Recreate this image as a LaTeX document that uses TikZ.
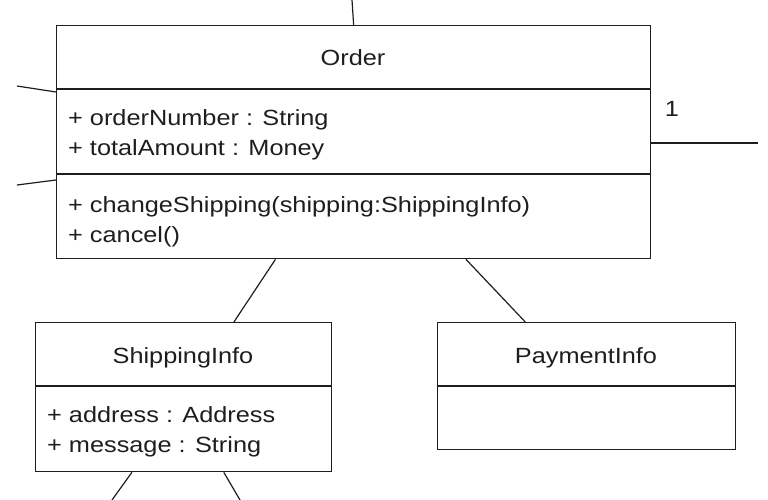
\documentclass[tikz,border=0pt]{standalone}
\usepackage{fontspec}
\setmainfont{Liberation Sans}[FakeStretch=1.15]
\usetikzlibrary{calc}
\definecolor{ink}{HTML}{1E1E1E}
\tikzset{
  classbox/.style={draw=ink, line width=1.3pt, rectangle, inner sep=0pt, anchor=north west},
  divider/.style={draw=ink, line width=1.3pt},
  assoc/.style={draw=ink, line width=1.2pt},
  title/.style={font=\fontsize{22}{26}\selectfont, text=ink, inner sep=0pt, anchor=base},
  member/.style={font=\fontsize{22}{26}\selectfont, text=ink, inner sep=0pt, anchor=base west},
}
\begin{document}
\begin{tikzpicture}[x=1pt,y=-1pt]
\useasboundingbox (0,0) rectangle (768,500);
% class boxes
\node[classbox, minimum width=594pt, minimum height=233pt] (order) at (56,25) {};
\node[classbox, minimum width=296pt, minimum height=149pt] (ship) at (35,322) {};
\node[classbox, minimum width=298pt, minimum height=127pt] (pay) at (437,322) {};
% compartment dividers
\draw[divider] (56,89) -- (650,89);
\draw[divider] (56,174) -- (650,174);
\draw[divider] (35,386) -- (331,386);
\draw[divider] (437,386) -- (735,386);
% texts
\node[title] (ordert) at (353,66) {Order};
\node[member] (oa1) at (68,126) {+ orderNumber : String};
\node[member] (oa2) at (68,156) {+ totalAmount : Money};
\node[member] (om1) at (68,212) {+ changeShipping(shipping:ShippingInfo)};
\node[member] (om2) at (68,242) {+ cancel()};
\node[title] (shipt) at (183,363) {ShippingInfo};
\node[member] (sa1) at (47,422) {+ address : Address};
\node[member] (sa2) at (47,452) {+ message : String};
\node[title] (payt) at (586,363) {PaymentInfo};
\node[member, anchor=base] (mult) at (672,117) {1};
% free ends
\coordinate (ctop) at (352,0);
\coordinate (cl1) at (17,86);
\coordinate (cl2) at (17,185);
\coordinate (cr) at (758,143);
\coordinate (cb1) at (112,500);
\coordinate (cb2) at (240,500);
% connectors
\draw[assoc] (ctop) -- (order.north);
\draw[assoc] (cl1) -- (order.north west |- 0,92);
\draw[assoc] (cl2) -- (order.north west |- 0,180);
\draw[assoc] (order.north east |- 0,143) -- (cr);
\draw[assoc] ($(order.south west)!0.3687!(order.south east)$) -- ($(ship.north west)!0.669!(ship.north east)$);
\draw[assoc] ($(order.south west)!0.6886!(order.south east)$) -- ($(pay.north west)!0.295!(pay.north east)$);
\draw[assoc] ($(ship.south west)!0.326!(ship.south east)$) -- (cb1);
\draw[assoc] ($(ship.south west)!0.635!(ship.south east)$) -- (cb2);
\end{tikzpicture}
\end{document}
